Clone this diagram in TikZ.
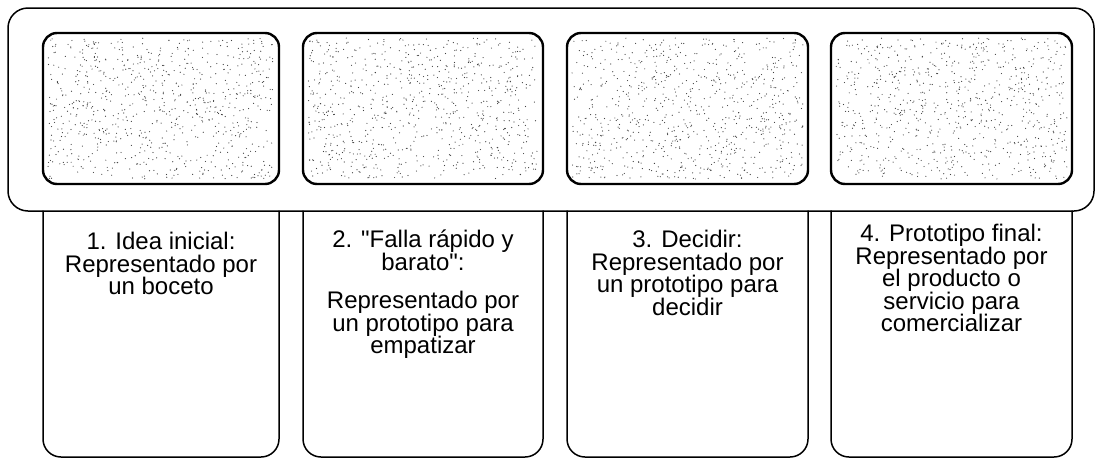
\documentclass[tikz,border=0pt]{standalone}
\usepackage{fontspec}
\setmainfont{Liberation Sans}
\newfontfamily\recta{Liberation Sans}
\begin{document}
\begin{tikzpicture}[x=1pt, y=-1pt, line join=round, line cap=round,
	marco/.style={line width=1.5pt, rounded corners=20pt},
	foto/.style={line width=2.4pt, rounded corners=14pt},
	columna/.style={line width=1.5pt, rounded corners=18pt},
	punto/.style={black!75},
	texto/.style={anchor=north, align=center, inner sep=0pt, font=\recta\fontsize{24}{22.5}\selectfont}]
	\useasboundingbox (0,0) rectangle (1098,464);
	\def\ytop{33} \def\ybot{184} % fotos
	\def\ymarco{211} \def\yfin{457} % columnas
	\pgfmathsetseed{11}
	\draw[marco] (8,8) rectangle (1094,\ymarco);
	\foreach \xa/\xb in {43/279, 303/543, 567/808, 831/1072}{
		\draw[columna] (\xa,\ymarco) -- (\xa,\yfin) -- (\xb,\yfin) -- (\xb,\ymarco);
		\foreach \k in {1,...,800}
			\fill[punto] ({\xa+5+rnd*(\xb-\xa-10)},{\ytop+5+rnd*(\ybot-\ytop-10)}) circle (0.6);
		\draw[foto] (\xa,\ytop) rectangle (\xb,\ybot);
	}
	\node[texto] (t1) at (161,232) {1. Idea inicial:\\Representado por\\un boceto};
	\node[texto] (t2) at (423,230) {2. "Falla rápido y\\barato":\\[16pt]Representado por\\un prototipo para\\empatizar};
	\node[texto] (t3) at (687.5,230) {3. Decidir:\\Representado por\\un prototipo para\\decidir};
	\node[texto] (t4) at (951.5,224) {4. Prototipo final:\\Representado por\\el producto o\\servicio para\\comercializar};
\end{tikzpicture}
\end{document}
